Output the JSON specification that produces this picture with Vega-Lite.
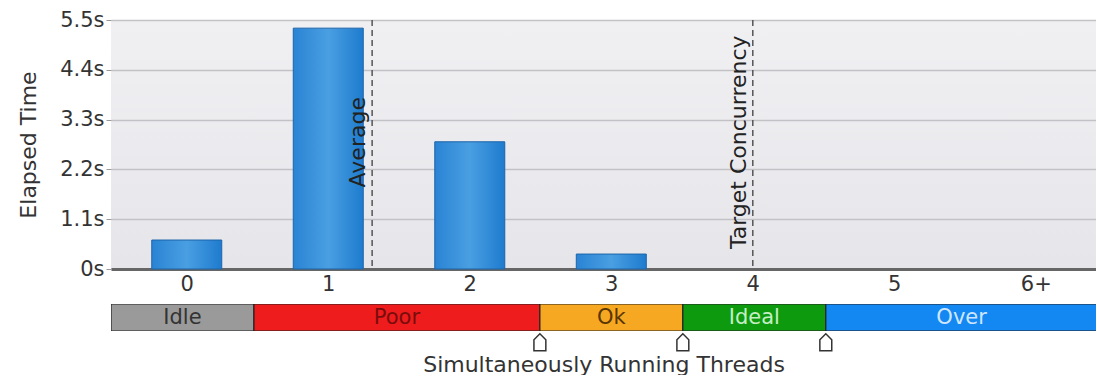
{
  "$schema": "https://vega.github.io/schema/vega-lite/v6.json",
  "padding": {"left": 17, "top": 9, "right": 0, "bottom": 0},
  "background": "white",
  "spacing": 10,
  "config": {
    "font": "DejaVu Sans",
    "view": {"stroke": null},
    "axis": {"labelFont": "DejaVu Sans", "titleFont": "DejaVu Sans", "titleFontWeight": "normal", "labelColor": "#333", "titleColor": "#333"}
  },
  "datasets": {
    "threads": [
      {"n": 0, "t": 0.64},
      {"n": 1, "t": 5.32},
      {"n": 2, "t": 2.81},
      {"n": 3, "t": 0.33},
      {"n": 4, "t": 0},
      {"n": 5, "t": 0},
      {"n": 6, "t": 0}
    ],
    "marks": [
      {"label": "Average", "value": 1.31},
      {"label": "Target Concurrency", "value": 4}
    ],
    "zones": [
      {"zone": "Idle", "start": -0.5, "end": 0.5, "mid": 0},
      {"zone": "Poor", "start": 0.5, "end": 2.5, "mid": 1.5},
      {"zone": "Ok", "start": 2.5, "end": 3.5, "mid": 3},
      {"zone": "Ideal", "start": 3.5, "end": 4.5, "mid": 4},
      {"zone": "Over", "start": 4.5, "end": 6.5, "mid": 5.45}
    ],
    "bounds": [
      {"b": 2.5},
      {"b": 3.5},
      {"b": 4.5}
    ]
  },
  "vconcat": [
    {
      "width": 985,
      "height": 249,
      "view": {"fill": {"gradient": "linear", "x1": 0, "x2": 0, "y1": 0, "y2": 1,
        "stops": [{"offset": 0, "color": "#f0f0f3"}, {"offset": 1, "color": "#e6e6ea"}]}, "stroke": null},
      "layer": [
        {
          "data": {"name": "threads"},
          "mark": {
            "type": "bar",
            "width": 70,
            "stroke": "#1c64a8",
            "strokeWidth": 1,
            "color": {"gradient": "linear", "x1": 0, "x2": 1, "y1": 0, "y2": 0,
              "stops": [
                {"offset": 0, "color": "#2a84d4"},
                {"offset": 0.5, "color": "#4a9fe2"},
                {"offset": 1, "color": "#1e7bce"}
              ]}
          },
          "encoding": {
            "x": {
              "field": "n", "type": "quantitative",
              "scale": {"domain": [-0.5, 6.39], "nice": false, "zero": false},
              "axis": {
                "values": [0, 1, 2, 3, 4, 5, 6],
                "labelExpr": "datum.value == 6 ? '6+' : format(datum.value, 'd')",
                "grid": false, "ticks": false,
                "domainColor": "#666", "domainWidth": 3,
                "labelFontSize": 21, "labelPadding": 4,
                "title": null
              }
            },
            "y": {
              "field": "t", "type": "quantitative",
              "scale": {"domain": [0, 5.5], "nice": false, "zero": true},
              "axis": {
                "values": [0, 1.1, 2.2, 3.3, 4.4, 5.5],
                "labelExpr": "format(datum.value, '.2~f') + 's'",
                "domain": false,
                "grid": true, "gridColor": "#c2c2c6", "gridWidth": 1.5,
                "tickColor": "#999", "tickSize": 5,
                "labelFontSize": 21, "labelPadding": 2,
                "title": "Elapsed Time", "titleFontSize": 22, "titlePadding": 19
              }
            },
            "opacity": {"condition": {"test": "datum.t == 0", "value": 0}, "value": 1}
          }
        },
        {
          "data": {"name": "marks"},
          "mark": {"type": "rule", "color": "#555", "strokeDash": [6, 4], "strokeWidth": 1.5},
          "encoding": {
            "x": {"field": "value", "type": "quantitative", "scale": {"domain": [-0.5, 6.39], "nice": false, "zero": false}}
          }
        },
        {
          "data": {"name": "marks"},
          "mark": {"type": "text", "angle": 270, "align": "center", "baseline": "bottom", "dy": -2, "fontSize": 22, "color": "#222"},
          "encoding": {
            "x": {"field": "value", "type": "quantitative", "scale": {"domain": [-0.5, 6.39], "nice": false, "zero": false}},
            "y": {"datum": 2.8, "type": "quantitative", "scale": {"domain": [0, 5.5], "nice": false, "zero": true}},
            "text": {"field": "label"}
          }
        }
      ]
    },
    {
      "width": 985,
      "height": 27,
      "layer": [
        {
          "data": {"name": "zones"},
          "mark": {"type": "rect", "stroke": "#222", "strokeWidth": 1.2, "clip": true},
          "encoding": {
            "x": {
              "field": "start", "type": "quantitative",
              "scale": {"domain": [-0.5, 6.39], "nice": false, "zero": false},
              "axis": {
                "labels": false, "ticks": false, "domain": false, "grid": false,
                "title": "Simultaneously Running Threads", "titleFontSize": 22, "titlePadding": 23
              }
            },
            "x2": {"field": "end"},
            "y": {"datum": 0, "type": "quantitative", "scale": {"domain": [0, 1], "nice": false}, "axis": null},
            "y2": {"datum": 1},
            "fill": {
              "field": "zone", "type": "nominal",
              "scale": {"domain": ["Idle", "Poor", "Ok", "Ideal", "Over"], "range": ["#9a9a9a", "#ee1c1c", "#f7a823", "#0e9a0e", "#1387f2"]},
              "legend": null
            }
          }
        },
        {
          "data": {"name": "zones"},
          "mark": {"type": "text", "fontSize": 21, "baseline": "middle", "align": "center"},
          "encoding": {
            "x": {"field": "mid", "type": "quantitative"},
            "y": {"datum": 0.5, "type": "quantitative"},
            "text": {"field": "zone"},
            "color": {
              "field": "zone", "type": "nominal",
              "scale": {"domain": ["Idle", "Poor", "Ok", "Ideal", "Over"], "range": ["#333333", "#7a0c0c", "#5a3600", "#c4efc4", "#cfe6ff"]},
              "legend": null
            }
          }
        },
        {
          "data": {"name": "bounds"},
          "mark": {"type": "point", "filled": true, "fill": "white", "stroke": "#333", "strokeWidth": 1.5, "opacity": 1, "size": 289,
            "shape": "M-0.7,1 L0.7,1 L0.7,-0.3 L0,-1 L-0.7,-0.3 Z"},
          "encoding": {
            "x": {"field": "b", "type": "quantitative"},
            "y": {"datum": -0.42, "type": "quantitative"}
          }
        }
      ]
    }
  ]
}
